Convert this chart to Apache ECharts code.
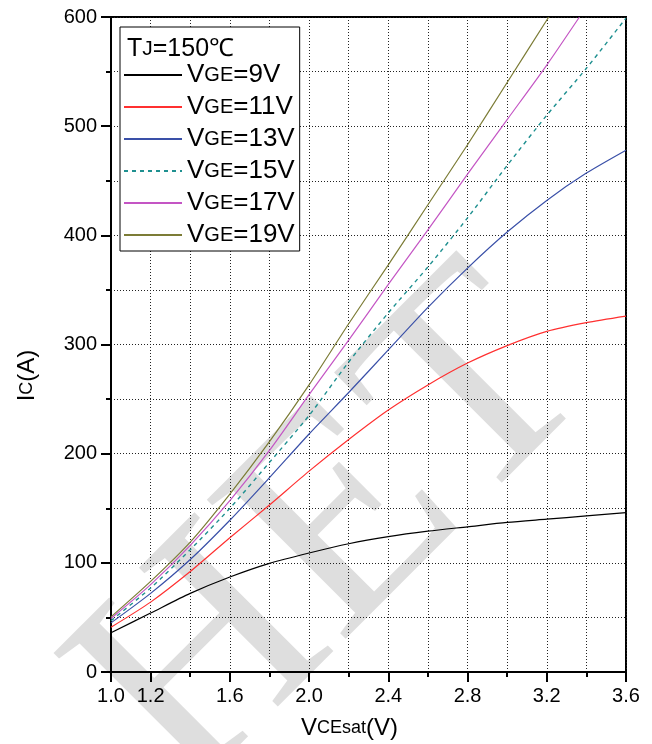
<!DOCTYPE html>
<html>
<head>
<meta charset="utf-8">
<script src="https://cdn.jsdelivr.net/npm/echarts@6/dist/echarts.min.js"></script>
<style>
  html, body { margin: 0; padding: 0; background: #fff; }
  #chart { width: 652px; height: 744px; }
</style>
</head>
<body>
<div id="chart"></div>
<script>
// Output characteristics at Tj = 150 °C: collector current Ic (A) vs VCEsat (V)
const vceGrid = [1.0, 1.2, 1.4, 1.6, 1.8, 2.0, 2.2, 2.4, 2.6, 2.8, 3.0, 3.2, 3.4, 3.6];
const icGE9  = [36, 54, 72, 87, 99.5, 109, 117.5, 124, 129, 133, 137, 140, 143, 146];
const icGE11 = [41, 64, 92, 123, 153, 184, 213, 240, 263, 283, 299, 312, 320, 326];
const icGE13 = [45, 72, 103, 139, 178, 218, 256, 295, 334, 370, 403, 432, 457, 478];
const icGE15 = [47, 77, 112, 150, 192, 235, 284, 329, 371, 416, 464, 510, 553, 599];
const vceGE17 = [1.0, 1.2, 1.4, 1.6, 1.8, 2.0, 2.2, 2.4, 2.6, 2.8, 3.0, 3.2, 3.365];
const icGE17  = [49, 80, 116, 157, 203, 254, 304, 355, 405, 456, 506, 556, 600];
const vceGE19 = [1.0, 1.2, 1.4, 1.6, 1.8, 2.0, 2.2, 2.4, 2.6, 2.8, 3.0, 3.21];
const icGE19  = [50.5, 83, 119, 163, 211, 263, 319, 373, 428, 483, 540, 600];

const seriesNames = ['VGE=9V', 'VGE=11V', 'VGE=13V', 'VGE=15V', 'VGE=17V', 'VGE=19V'];
const xTickLabels = [1.0, 1.2, 1.6, 2.0, 2.4, 2.8, 3.2, 3.6];
const xMajorTicks = [1.0, 1.2, 1.6, 2.0, 2.4, 2.8, 3.2, 3.6];
const yTickLabels = [0, 100, 200, 300, 400, 500, 600];
const watermarkText = 'LHET';

const FONT = '"Liberation Sans", Arial, sans-serif';
const zip = (xs, ys) => ys.map((y, i) => [xs[i], y]);

const curves = [
  { x: vceGrid, y: icGE9,  color: '#000000', type: 'solid' },
  { x: vceGrid, y: icGE11, color: '#ff3030', type: 'solid' },
  { x: vceGrid, y: icGE13, color: '#3a50a8', type: 'solid' },
  { x: vceGrid, y: icGE15, color: '#1f9090', type: [4, 4] },
  { x: vceGE17, y: icGE17, color: '#c455c4', type: 'solid' },
  { x: vceGE19, y: icGE19, color: '#7c7c36', type: 'solid' }
];

const chart = echarts.init(document.getElementById('chart'), null, { renderer: 'canvas' });

const dotted = { color: '#222', width: 1, type: [1, 2] };
const big = { fontSize: 26, color: '#000', fontFamily: FONT, fontWeight: 'normal', lineHeight: 28 };
const small = { fontSize: 20, color: '#000', fontFamily: FONT, fontWeight: 'normal', lineHeight: 28 };

chart.setOption({
  animation: false,
  backgroundColor: '#fff',
  textStyle: { fontFamily: FONT },
  graphic: [
    {
      // diagonal background watermark
      type: 'text',
      z: -10,
      silent: true,
      x: 543, y: 330,
      rotation: Math.PI / 4,
      style: {
        text: watermarkText,
        font: '300px "Liberation Serif", "DejaVu Serif", serif',
        fill: '#dedede',
        align: 'right',
        verticalAlign: 'middle'
      }
    }
  ],
  grid: {
    left: 111, right: 26, top: 17, bottom: 72,
    outerBoundsMode: 'none',
    show: true, borderColor: '#000', borderWidth: 2, backgroundColor: 'transparent'
  },
  title: {
    text: '{b|T}{s|J}{b|=150℃}',
    left: 122, top: 32,
    textStyle: {
      fontWeight: 'normal',
      rich: {
        b: { fontSize: 25, color: '#000', fontFamily: FONT, fontWeight: 'normal' },
        s: { fontSize: 21, color: '#000', fontFamily: FONT, fontWeight: 'normal' }
      }
    }
  },
  legend: {
    orient: 'vertical',
    left: 120, top: 27,
    padding: [35, 5, 3, 3],
    borderColor: '#000', borderWidth: 1,
    backgroundColor: '#fff',
    itemWidth: 58, itemHeight: 12, itemGap: 6,
    itemStyle: { opacity: 0 },
    data: seriesNames,
    formatter: n => '{b|V}{s|GE}{b|' + n.slice(3) + '}',
    textStyle: { rich: { b: big, s: small } }
  },
  xAxis: [
    {
      type: 'value', min: 1.0, max: 3.6, interval: 0.2,
      name: '{b|V}{s|CEsat}{b|(V)}',
      nameLocation: 'middle', nameGap: 44,
      nameTextStyle: {
        padding: [0, 38, 0, 0],
        rich: {
          b: { fontSize: 24, color: '#000', fontFamily: FONT },
          s: { fontSize: 18, color: '#000', fontFamily: FONT }
        }
      },
      axisLine: { show: true, lineStyle: { color: '#000', width: 2 } },
      axisTick: { show: true, inside: false, length: 5, lineStyle: { color: '#000', width: 2 } },
      axisLabel: {
        customValues: xTickLabels,
        formatter: v => v.toFixed(1),
        fontSize: 20, color: '#000', margin: 14, fontFamily: FONT
      },
      splitLine: { show: true, lineStyle: dotted }
    },
    {
      type: 'value', min: 1.0, max: 3.6, position: 'bottom', gridIndex: 0,
      axisLine: { show: false },
      axisTick: { show: true, customValues: xMajorTicks, inside: false, length: 10, lineStyle: { color: '#000', width: 2 } },
      axisLabel: { show: false },
      splitLine: { show: false }
    }
  ],
  yAxis: [
    {
      type: 'value', min: 0, max: 600, interval: 50,
      name: '{b|I}{s|C}{b|(A)}',
      nameLocation: 'middle', nameGap: 72, nameRotate: 90,
      nameTextStyle: {
        padding: [0, 62, 0, 0],
        rich: {
          b: { fontSize: 24, color: '#000', fontFamily: FONT },
          s: { fontSize: 18, color: '#000', fontFamily: FONT }
        }
      },
      axisLine: { show: true, lineStyle: { color: '#000', width: 2 } },
      axisTick: { show: true, inside: false, length: 5, lineStyle: { color: '#000', width: 2 } },
      axisLabel: {
        customValues: yTickLabels,
        fontSize: 20, color: '#000', margin: 14, fontFamily: FONT
      },
      splitLine: { show: true, lineStyle: dotted }
    },
    {
      type: 'value', min: 0, max: 600, position: 'left', gridIndex: 0,
      axisLine: { show: false },
      axisTick: { show: true, customValues: yTickLabels, inside: false, length: 10, lineStyle: { color: '#000', width: 2 } },
      axisLabel: { show: false },
      splitLine: { show: false }
    }
  ],
  series: curves.map((c, i) => ({
    name: seriesNames[i],
    type: 'line',
    xAxisIndex: 0, yAxisIndex: 0,
    data: zip(c.x, c.y),
    smooth: 0.25,
    symbol: 'none',
    clip: true,
    z: 3,
    lineStyle: { color: c.color, width: c.type === 'solid' ? 1.2 : 1.4, type: c.type },
    itemStyle: { color: c.color }
  }))
});
</script>
</body>
</html>
